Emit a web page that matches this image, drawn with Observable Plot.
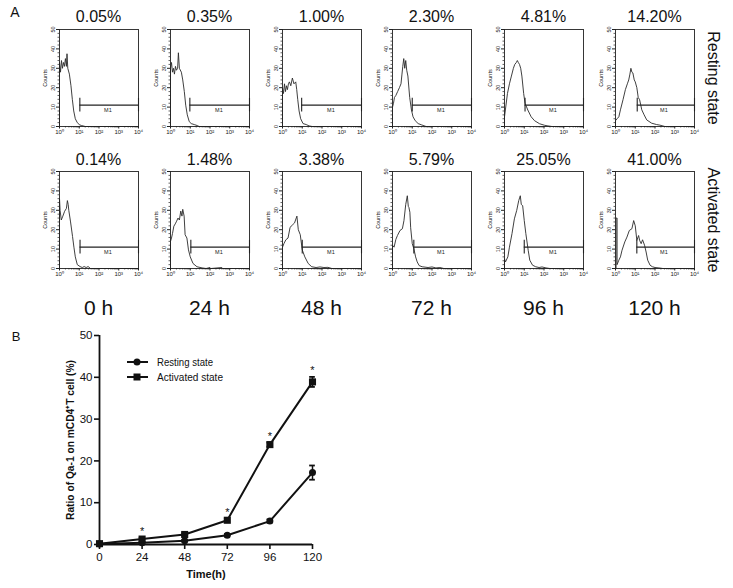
<!DOCTYPE html>
<html><head><meta charset="utf-8">
<script src="https://cdn.jsdelivr.net/npm/d3@7"></script>
<script src="https://cdn.jsdelivr.net/npm/@observablehq/plot@0.6"></script>
<style>
body{margin:0;background:#fff;}
#fig{position:relative;width:733px;height:588px;font-family:Arial,"Liberation Sans",sans-serif;overflow:hidden;background:#fff;color:#111;}
.lab{position:absolute;white-space:nowrap;line-height:1;transform:translate(-50%,-50%);}
.rot{position:absolute;white-space:nowrap;line-height:1;transform:translate(-50%,-50%) rotate(90deg);}
svg{position:absolute;}
</style></head><body><div id="fig"></div>
<script>
// ---------- Panel A data ----------
const timeLabels = ["0 h","24 h","48 h","72 h","96 h","120 h"];
const stateLabels = ["Resting state","Activated state"];
const restingPct = ["0.05%","0.35%","1.00%","2.30%","4.81%","14.20%"];
const activatedPct = ["0.14%","1.48%","3.38%","5.79%","25.05%","41.00%"];
// histograms: [log10 intensity, counts]
const rest0 = [[0,0],[0,33],[0.05,28],[0.1,34],[0.15,30],[0.2,33],[0.25,31],[0.3,35],[0.35,31],[0.38,37.5],[0.42,30],[0.5,27],[0.58,21],[0.65,14],[0.72,8],[0.8,4],[0.9,2],[1.0,1],[1.1,0.5],[1.2,0.3],[1.3,0],[4,0]];
const rest24 = [[0,0],[0,30],[0.05,33],[0.1,28],[0.15,30],[0.2,27],[0.25,31],[0.3,29],[0.36,30],[0.4,38],[0.45,30],[0.55,28],[0.62,24],[0.7,18],[0.77,11],[0.85,6],[0.95,2.5],[1.05,1.5],[1.2,1],[1.35,0.5],[1.45,0],[4,0]];
const rest48 = [[0,0],[0,20],[0.05,17],[0.1,22],[0.15,18],[0.2,21],[0.25,19],[0.3,22],[0.35,23],[0.42,21],[0.5,25],[0.58,22],[0.67,23],[0.72,19],[0.77,14],[0.84,8],[0.92,4],[1.04,1.5],[1.2,1],[1.35,0.3],[1.5,0],[4,0]];
const rest72 = [[0,0],[0,10],[0.05,12],[0.1,15],[0.17,16],[0.26,18],[0.35,20],[0.43,22],[0.48,27],[0.52,31],[0.57,35],[0.62,30],[0.67,34],[0.72,29],[0.78,26],[0.87,15],[0.96,8.5],[1.04,5],[1.15,3],[1.3,1.5],[1.48,0.8],[1.7,0],[4,0]];
const rest96 = [[0,0],[0,5],[0.05,9],[0.15,17],[0.25,22],[0.35,26],[0.45,30],[0.52,32],[0.6,33],[0.65,34],[0.7,33],[0.76,32],[0.82,30],[0.88,26],[0.97,17],[1.04,12],[1.18,8.5],[1.35,5],[1.52,3],[1.78,1.4],[2.04,0.6],[2.2,0.3],[2.4,0],[4,0]];
const rest120 = [[0,0],[0,3],[0.08,4],[0.17,5],[0.25,8.6],[0.38,13.8],[0.5,19],[0.6,22],[0.67,24],[0.73,27],[0.78,30],[0.83,28],[0.88,27.6],[0.95,24],[1.0,23],[1.08,20],[1.15,15],[1.22,13.8],[1.33,8.6],[1.45,6],[1.58,3.4],[1.83,1.7],[2.08,1],[2.25,0.7],[2.5,0],[4,0]];
const act0 = [[0,0],[0,36],[0.03,30],[0.09,25],[0.17,27],[0.26,29.5],[0.35,31],[0.4,35],[0.44,33],[0.47,30],[0.56,24],[0.66,16.5],[0.73,11],[0.8,6],[0.9,2],[1.04,1],[1.15,0.5],[1.25,1],[1.35,0.5],[1.45,1],[1.57,0],[4,0]];
const act24 = [[0,0],[0,14],[0.05,15.7],[0.1,18],[0.17,21.8],[0.24,23],[0.31,24.4],[0.38,26],[0.45,25],[0.52,29.6],[0.58,27],[0.62,30.5],[0.69,27],[0.74,17.4],[0.83,15.7],[0.91,9.6],[1.0,6],[1.14,2.6],[1.34,0.9],[1.6,0.3],[1.8,0],[2.0,0.5],[2.05,0],[2.6,0.5],[2.65,0],[4,0]];
const act48 = [[0,0],[0,11],[0.08,13],[0.17,14.8],[0.28,15.7],[0.38,21],[0.45,22],[0.52,22.6],[0.61,23.5],[0.66,25],[0.73,27],[0.8,20],[0.9,17.4],[1.0,9.6],[1.13,6],[1.3,2.6],[1.48,0.9],[1.7,0.5],[1.9,0.8],[2.1,0.5],[2.3,0.6],[2.5,0],[4,0]];
const act72 = [[0,0],[0,12],[0.08,11],[0.17,15],[0.25,17],[0.38,19.6],[0.5,20.5],[0.58,24.7],[0.67,33],[0.75,37.5],[0.8,32],[0.83,31.5],[0.88,29],[0.92,21],[1.0,12.8],[1.08,10.2],[1.17,6],[1.25,3.4],[1.35,1.5],[1.5,0.9],[1.8,0.5],[2.0,0.8],[2.2,0.3],[2.4,0.5],[2.6,0],[4,0]];
const act96 = [[0,0],[0,5],[0.05,3.4],[0.17,6],[0.25,11],[0.38,18],[0.5,25.6],[0.62,30],[0.72,35],[0.8,37.5],[0.85,33],[0.92,32.4],[1.0,24.7],[1.08,18],[1.2,9.4],[1.28,4.3],[1.42,1.7],[1.58,0.9],[1.75,0.5],[1.9,0.8],[2.1,0.3],[2.3,0],[4,0]];
const act120 = [[0,0],[0.03,0],[0.03,26],[0.08,26],[0.08,2],[0.17,4.3],[0.25,6],[0.33,9.4],[0.47,13.7],[0.58,16.2],[0.7,19.6],[0.83,20.5],[0.92,24.7],[1.0,22],[1.08,14.5],[1.17,17],[1.22,14.5],[1.3,12.8],[1.37,14.8],[1.47,12],[1.55,8.5],[1.63,4.3],[1.75,1.7],[1.87,0.9],[2.0,0.5],[2.2,0.3],[2.4,0],[4,0]];
const restingHists = [rest0,rest24,rest48,rest72,rest96,rest120];
const activatedHists = [act0,act24,act48,act72,act96,act120];
const restingGates = [1.03,0.98,0.97,1.0,1.04,1.1];
const activatedGates = [1.04,1.03,1.0,1.08,1.0,1.08];
const countTicks = [0,10,20,30,40,50];
const countMinor = [2,4,6,8,12,14,16,18,22,24,26,28,32,34,36,38,42,44,46,48];
const decadeTicks = [1,10,100,1000,10000];
const decadeLabels = ["10⁰","10¹","10²","10³","10⁴"];
const minorX = [2,3,4,5,6,7,8,9,20,30,40,50,60,70,80,90,200,300,400,500,600,700,800,900,2000,3000,4000,5000,6000,7000,8000,9000];

// ---------- Panel B data ----------
const hours = [0,24,48,72,96,120];
const restingMean = [0.1,0.4,0.9,2.2,5.6,17.2];
const restingErr = [0.1,0.2,0.2,0.3,0.4,1.7];
const activatedMean = [0.2,1.3,2.4,5.8,23.9,38.9];
const activatedErr = [0.1,0.3,0.3,0.4,0.5,1.2];
const starHours = [24,72,96,120];
const yTicksB = [0,10,20,30,40,50];
const seriesNames = ["Resting state","Activated state"];
const yLabelB = "Ratio of Qa-1 on mCD4⁺T cell (%)";
const xLabelB = "Time(h)";

// ---------- layout ----------
const fig = document.getElementById("fig");
const HW = 79, HH = 97, ML = 22, MR = 5, MT = 4, MB = 14;
const colLeft = [59,170,282,392,504,615];
const rowTop = [29,171];
const ARIAL = "Arial, 'Liberation Sans', sans-serif";

function addLabel(text, x, y, size, cls="lab") {
  const d = document.createElement("div");
  d.className = cls; d.textContent = text;
  d.style.left = x + "px"; d.style.top = y + "px"; d.style.fontSize = size + "px";
  fig.appendChild(d);
}

function histogram(series, gate) {
  return Plot.plot({
    width: HW + ML + MR, height: HH + MT + MB,
    marginLeft: ML, marginRight: MR, marginTop: MT, marginBottom: MB,
    x: {type: "log", domain: [1, 1e4], axis: null},
    y: {domain: [0, 50], axis: null},
    style: {background: "transparent", fontFamily: ARIAL, overflow: "visible", color: "#222"},
    marks: [
      Plot.axisX({ticks: minorX, label: null, tickSize: 1.5, tickFormat: () => "", strokeWidth: 0.7}),
      Plot.axisX({ticks: decadeTicks, label: null, tickSize: 2.5, tickPadding: 1, tickFormat: d => decadeLabels[decadeTicks.indexOf(d)], fontSize: 6}),
      Plot.axisY({ticks: countMinor, label: null, tickSize: 1.5, tickFormat: () => "", strokeWidth: 0.7}),
      Plot.axisY({ticks: countTicks, label: null, tickSize: 3, tickFormat: () => ""}),
      Plot.text(countTicks, {x: 1, y: d => d, text: d => String(d), rotate: -90, dx: -6.5, fontSize: 5.5}),
      Plot.text(["Counts"], {frameAnchor: "left", textAnchor: "middle", rotate: -90, dx: -14, fontSize: 5.5}),
      Plot.line(series, {x: d => 10 ** d[0], y: d => d[1], stroke: "#2a2a2a", strokeWidth: 0.9}),
      Plot.ruleY([11], {x1: 10 ** gate, x2: 1e4, stroke: "#222", strokeWidth: 1.1}),
      Plot.ruleX([10 ** gate, 1e4], {y1: 7.5, y2: 14.5, stroke: "#222", strokeWidth: 1.1}),
      Plot.text(["M1"], {x: 10 ** 2.45, y: 9.5, fontSize: 5.5, lineAnchor: "top"}),
      Plot.frame({stroke: "#222", strokeWidth: 0.9})
    ]
  });
}

[restingHists, activatedHists].forEach((hists, r) => {
  const gates = r === 0 ? restingGates : activatedGates;
  const pcts = r === 0 ? restingPct : activatedPct;
  hists.forEach((h, c) => {
    const svg = histogram(h, gates[c]);
    svg.style.left = (colLeft[c] - ML) + "px";
    svg.style.top = (rowTop[r] - MT) + "px";
    fig.appendChild(svg);
    addLabel(pcts[c], colLeft[c] + HW / 2, r === 0 ? 17 : 160, 16);
  });
  addLabel(stateLabels[r], 713, rowTop[r] + HH / 2, 16, "rot");
});
timeLabels.forEach((t, c) => addLabel(t, colLeft[c] + HW / 2, 307, 21));
addLabel("A", 15, 12, 14);
addLabel("B", 16, 336, 13);

// ---------- Panel B chart ----------
const rowsB = hours.flatMap((h, i) => [
  {series: seriesNames[0], h, v: restingMean[i], e: restingErr[i]},
  {series: seriesNames[1], h, v: activatedMean[i], e: activatedErr[i]}
]);
const chartB = Plot.plot({
  width: 292, height: 259, marginLeft: 59, marginRight: 20, marginTop: 10, marginBottom: 40,
  x: {domain: [0, 120], axis: null},
  y: {domain: [0, 50], axis: null},
  style: {background: "transparent", fontFamily: ARIAL, overflow: "visible", color: "#111"},
  marks: [
    Plot.ruleX([0], {y1: 0, y2: 50, strokeWidth: 1.8}),
    Plot.ruleY([0], {x1: 0, x2: 120, strokeWidth: 1.8}),
    Plot.axisY({ticks: yTicksB, label: null, tickSize: 5, tickPadding: 2, strokeWidth: 1.6, fontSize: 11.5}),
    Plot.axisX({ticks: hours, label: null, tickSize: 5, tickPadding: 3, strokeWidth: 1.6, fontSize: 11.5}),
    Plot.text([yLabelB], {frameAnchor: "left", textAnchor: "middle", rotate: -90, dx: -29, fontWeight: "bold", fontSize: 11}),
    Plot.text([xLabelB], {frameAnchor: "bottom", dy: 33, fontWeight: "bold", fontSize: 11}),
    Plot.ruleX(rowsB, {x: "h", y1: d => d.v - d.e, y2: d => d.v + d.e, strokeWidth: 1.5}),
    Plot.ruleY(rowsB, {y: d => d.v + d.e, x1: d => d.h - 1.6, x2: d => d.h + 1.6, strokeWidth: 1.8}),
    Plot.ruleY(rowsB, {y: d => d.v - d.e, x1: d => d.h - 1.6, x2: d => d.h + 1.6, strokeWidth: 1.8}),
    Plot.line(rowsB, {x: "h", y: "v", z: "series", strokeWidth: 2}),
    Plot.dot(rowsB.filter(d => d.series === seriesNames[0]), {x: "h", y: "v", r: 3.5, fill: "currentColor", symbol: "circle"}),
    Plot.dot(rowsB.filter(d => d.series === seriesNames[1]), {x: "h", y: "v", r: 4, fill: "currentColor", symbol: "square"}),
    Plot.text(rowsB.filter(d => d.series === seriesNames[1] && starHours.includes(d.h)), {x: "h", y: d => d.v + d.e, text: () => "*", dy: -6, fontSize: 11})
  ]
});
// condense the bold axis title slightly along its own direction, keeping it centred
d3.select(chartB).selectAll("text").filter(function() { return this.textContent === yLabelB; })
  .each(function() {
    const t = this.getAttribute("transform") || "";
    this.setAttribute("transform", (t + " scale(0.93,1)").trim());
  });
chartB.style.left = "40px";
chartB.style.top = "325px";
fig.appendChild(chartB);

// legend
const leg = d3.create("svg").attr("width", 130).attr("height", 36)
  .style("left", "120px").style("top", "352px");
const legWidths = [56, 66];
seriesNames.forEach((name, i) => {
  const y = 10 + 15 * i;
  leg.append("line").attr("x1", 7).attr("x2", 28).attr("y1", y).attr("y2", y).attr("stroke", "#111").attr("stroke-width", 2);
  if (i === 0) leg.append("circle").attr("cx", 17).attr("cy", y).attr("r", 3.5).attr("fill", "#111");
  else leg.append("rect").attr("x", 13.5).attr("y", y - 3.5).attr("width", 7).attr("height", 7).attr("fill", "#111");
  leg.append("text").attr("x", 37).attr("y", y).attr("dy", "0.35em").attr("font-size", 11.5)
    .attr("font-family", ARIAL).attr("fill", "#111")
    .attr("textLength", legWidths[i]).attr("lengthAdjust", "spacingAndGlyphs").text(name);
});
fig.appendChild(leg.node());
</script></body></html>
